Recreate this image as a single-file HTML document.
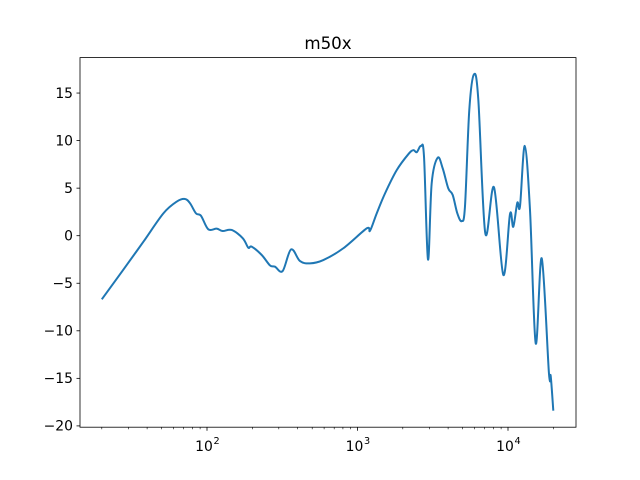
<!DOCTYPE html>
<html><head><meta charset="utf-8"><style>
body{margin:0;background:#fff}
svg{display:block;font-family:"DejaVu Sans","Liberation Sans",sans-serif}
</style></head><body>
<svg id="c" width="640" height="480">
<rect x="0" y="0" width="640" height="480" fill="#fff"/>
<text x="328" y="49" text-anchor="middle" font-size="16.7">m50x</text>
<g id="ticks"></g>
<path id="line" fill="none" stroke="#1f77b4" stroke-width="2" stroke-linejoin="round"/>
<rect x="80" y="57.6" width="496" height="369.6" fill="none" stroke="#000" stroke-width="0.8"/>
</svg>
<script>
const freqs=[20,27.8,37.8,51.3,63,71.4,77.1,84.5,91.2,102,116,127,146,173,188,198,231,262,283,318,362,415,483,593,805,1151,1211,1342,1524,1822,2177,2350,2474,2642,2767,2940,3111,3410,3683,4010,4292,4605,4922,5176,5530,5945,6350,7067,8070,9310,10310,10840,11530,12020,12920,14000,15280,16750,18710,19220,20000];
const levels=[-6.69,-3.57,-0.63,2.35,3.59,3.86,3.42,2.35,2.10,0.67,0.74,0.49,0.60,-0.27,-1.26,-1.15,-2.03,-3.12,-3.26,-3.72,-1.44,-2.67,-2.91,-2.56,-1.32,0.77,0.52,2.35,4.45,6.89,8.57,8.99,8.78,9.44,8.29,-2.50,5.51,8.20,7.08,4.98,4.28,2.35,1.54,3.04,13.21,16.97,14.30,0.25,5.09,-4.13,2.28,0.94,3.46,3.11,9.44,2.71,-11.32,-2.38,-14.47,-14.75,-18.4];
const yTicks=[-20,-15,-10,-5,0,5,10,15];
const xMajor=[100,1000,10000];
const xMajorLabels=["2","3","4"];
const xMinorMult=[2,3,4,5,6,7,8,9];

const X=f=>207+(Math.log10(f)-2)*150.5;
const Y=v=>235.7-v*9.51;
const NS="http://www.w3.org/2000/svg";
const g=document.getElementById('ticks');
function mk(t,a){const e=document.createElementNS(NS,t);for(const k in a)e.setAttribute(k,a[k]);g.appendChild(e);return e;}
yTicks.forEach(v=>{
  const l=mk('line',{x1:76.5,x2:80,y1:Y(v),y2:Y(v),stroke:'#000','stroke-width':0.8});
  
  
  const t=mk('text',{x:73,y:Y(v)+4.8,'text-anchor':'end','font-size':13.9});
  t.textContent=String(v).replace('-','\u2212');
  
  
});
xMajor.forEach((f,i)=>{
  const l=mk('line',{x1:X(f),x2:X(f),y1:427.2,y2:430.7,stroke:'#000','stroke-width':0.8});
  
  
  const t=mk('text',{x:X(f)-3,y:451,'text-anchor':'middle','font-size':13.9});
  t.textContent='10';
  
  
  const s=mk('text',{x:X(f)+6.5,y:444,'text-anchor':'start','font-size':9.7});
  s.textContent=xMajorLabels[i];
  
  
});
[10,100,1000,10000].forEach(d=>xMinorMult.forEach(m=>{
  const f=d*m,x=X(f);
  if(x<80||x>576)return;
  const l=mk('line',{x1:x,x2:x,y1:427.2,y2:429.2,stroke:'#000','stroke-width':0.6});
  
  
}));
const P=freqs.map((f,i)=>[X(f),Y(levels[i])]);
let d='M'+P[0][0]+','+P[0][1];
for(let i=0;i<P.length-1;i++){
  const p0=P[Math.max(0,i-1)],p1=P[i],p2=P[i+1],p3=P[Math.min(P.length-1,i+2)];
  const k=1/6;
  d+=' C'+(p1[0]+(p2[0]-p0[0])*k)+','+(p1[1]+(p2[1]-p0[1])*k)+' '+(p2[0]-(p3[0]-p1[0])*k)+','+(p2[1]-(p3[1]-p1[1])*k)+' '+p2[0]+','+p2[1];
}
document.getElementById('line').setAttribute('d',d);
</script>
</body></html>
